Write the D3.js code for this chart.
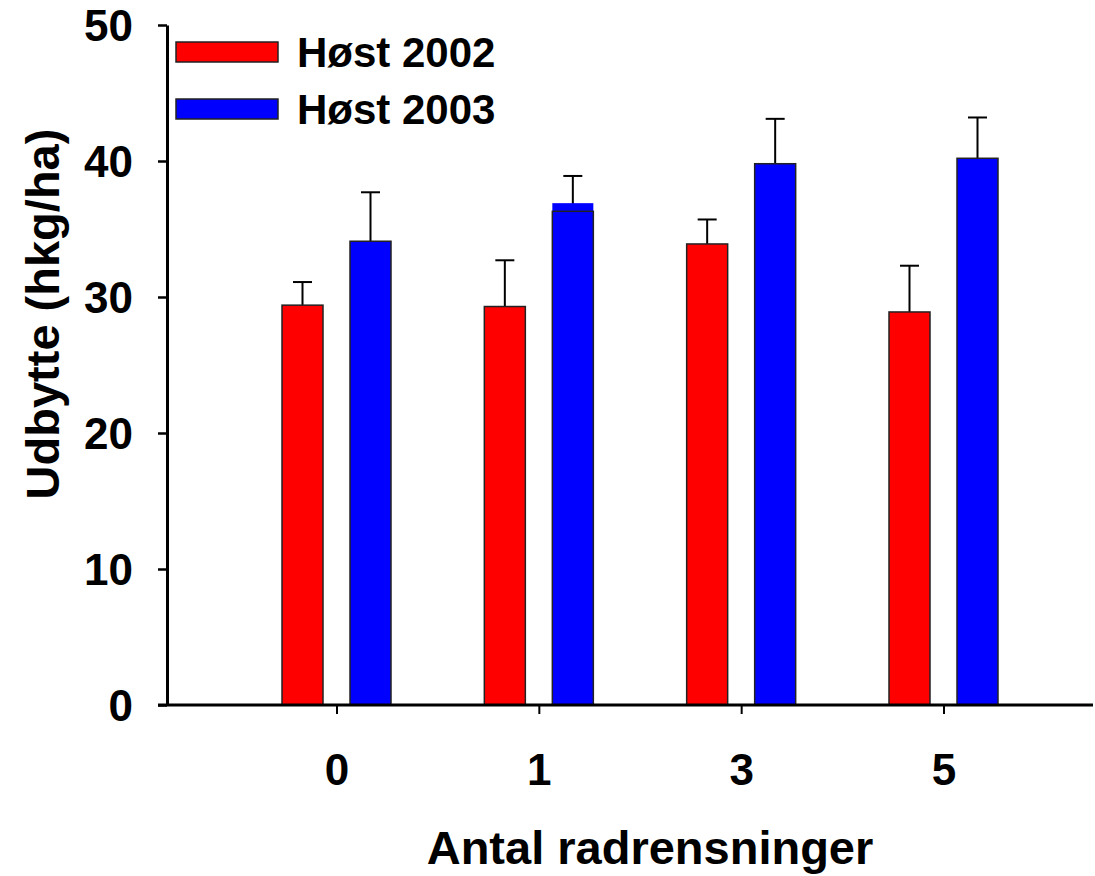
<!DOCTYPE html>
<html>
<head>
<meta charset="utf-8">
<script src="https://cdn.jsdelivr.net/npm/d3@7/dist/d3.min.js"></script>
<style>
  body { margin: 0; background: #fff; }
  text { font-family: "Liberation Sans", Arial, sans-serif; font-weight: bold; fill: #000; }
</style>
</head>
<body>
<div class="chart"></div>
<script>
// data
var categories = ["0", "1", "3", "5"];
var series = ["Høst 2002", "Høst 2003"];
var colors = ["#ff0000", "#0000ff"];
var values2002 = [29.4, 29.3, 33.9, 28.9];
var errors2002 = [1.7, 3.4, 1.8, 3.4];
var values2003 = [34.1, 36.3, 39.8, 40.2];
var errors2003 = [3.6, 2.6, 3.3, 3.0];
// the 2003 bar at "1" has its fill sticking out above its outline
var fill2003 = [34.1, 36.9, 39.8, 40.2];
var yTicks = [0, 10, 20, 30, 40, 50];

var width = 1095, height = 876;

var svg = d3.select(".chart").append("svg")
	.attr("width", width)
	.attr("height", height);

var y = d3.scaleLinear().domain([0, 50]).range([705, 25]);
var x = d3.scalePoint().domain(categories).range([336.5, 943.5]);
var xSub = d3.scalePoint().domain(series).range([-34, 34]);
var barWidth = 41;

var rows = [];
for(var i = 0; i < categories.length; i++) {
	rows.push({ cat: categories[i], s: 0, value: values2002[i], fill: values2002[i], err: errors2002[i] });
	rows.push({ cat: categories[i], s: 1, value: values2003[i], fill: fill2003[i], err: errors2003[i] });
}

function cx(d) { return x(d.cat) + xSub(series[d.s]); }

// error bars (upper only), drawn first so the bar outline sits on top
var err = svg.append("g").attr("stroke", "#000").attr("stroke-width", 2);
err.selectAll("line.v").data(rows).enter().append("line")
	.attr("x1", cx).attr("x2", cx)
	.attr("y1", function(d) { return y(d.value); })
	.attr("y2", function(d) { return y(d.value + d.err); });
err.selectAll("line.c").data(rows).enter().append("line")
	.attr("x1", function(d) { return cx(d) - 9.5; })
	.attr("x2", function(d) { return cx(d) + 9.5; })
	.attr("y1", function(d) { return y(d.value + d.err); })
	.attr("y2", function(d) { return y(d.value + d.err); });

// bars: fill, then outline
svg.append("g").selectAll("rect").data(rows).enter().append("rect")
	.attr("x", function(d) { return cx(d) - barWidth / 2; })
	.attr("width", barWidth)
	.attr("y", function(d) { return y(d.fill); })
	.attr("height", function(d) { return y(0) - y(d.fill); })
	.attr("fill", function(d) { return colors[d.s]; });
svg.append("g").selectAll("rect").data(rows).enter().append("rect")
	.attr("x", function(d) { return cx(d) - barWidth / 2; })
	.attr("width", barWidth)
	.attr("y", function(d) { return y(d.value); })
	.attr("height", function(d) { return y(0) - y(d.value); })
	.attr("fill", "none")
	.attr("stroke", "#222")
	.attr("stroke-width", 1.5);

// y axis
var yAxis = svg.append("g")
	.attr("transform", "translate(167,0)")
	.call(d3.axisLeft(y).tickValues(yTicks).tickSize(9).tickSizeOuter(0).tickPadding(25));
yAxis.select(".domain").attr("stroke-width", 3);
yAxis.selectAll(".tick line").attr("stroke-width", 2.5);
yAxis.selectAll(".tick text")
	.attr("font-size", 44)
	.attr("dy", "0.36em")
	.attr("font-family", null);

// x axis: long baseline plus category ticks
svg.append("line")
	.attr("x1", 158).attr("x2", 1093)
	.attr("y1", y(0)).attr("y2", y(0))
	.attr("stroke", "#000").attr("stroke-width", 3);
var xAxis = svg.append("g")
	.attr("transform", "translate(0," + y(0) + ")")
	.call(d3.axisBottom(x).tickSize(9).tickSizeOuter(0).tickPadding(40));
xAxis.select(".domain").remove();
xAxis.selectAll(".tick line").attr("stroke-width", 2);
xAxis.selectAll(".tick text")
	.attr("font-size", 44)
	.attr("font-family", null);

// axis titles
svg.append("text")
	.attr("x", 650).attr("y", 864)
	.attr("text-anchor", "middle")
	.attr("font-size", 47)
	.text("Antal radrensninger");
svg.append("text")
	.attr("transform", "translate(59,314) rotate(-90)")
	.attr("text-anchor", "middle")
	.attr("font-size", 47)
	.text("Udbytte (hkg/ha)");

// legend
var legend = svg.append("g").selectAll("g").data(series).enter().append("g")
	.attr("transform", function(d, i) { return "translate(176," + (42 + i * 57) + ")"; });
legend.append("rect")
	.attr("width", 102).attr("height", 20)
	.attr("fill", function(d, i) { return colors[i]; })
	.attr("stroke", "#222").attr("stroke-width", 1.5);
legend.append("text")
	.attr("x", 121).attr("y", 25)
	.attr("font-size", 42)
	.text(function(d) { return d; });
</script>
</body>
</html>
